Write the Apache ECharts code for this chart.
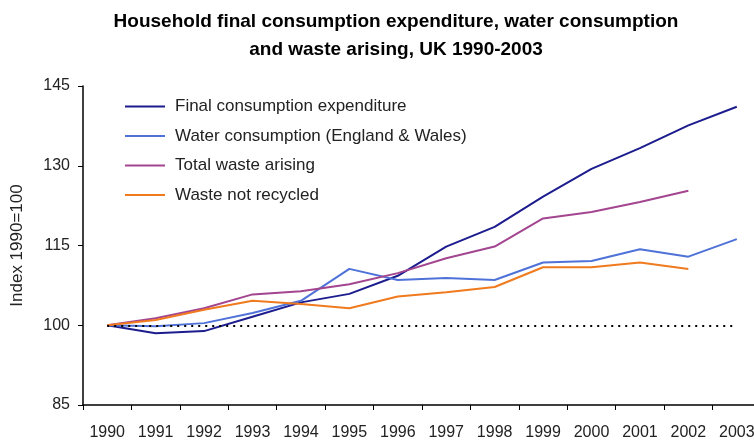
<!DOCTYPE html>
<html>
<head>
<meta charset="utf-8">
<script src="https://cdn.jsdelivr.net/npm/echarts@6/dist/echarts.min.js"></script>
<style>
  html, body { margin: 0; padding: 0; background: #fff; }
  #chart { width: 754px; height: 441px; }
</style>
</head>
<body>
<div id="chart"></div>
<script>
// index, 1990 = 100
const years = ['1990', '1991', '1992', '1993', '1994', '1995', '1996', '1997', '1998', '1999', '2000', '2001', '2002', '2003'];
const finalConsumption = [100, 98.5, 98.9, 101.6, 104.3, 105.9, 109.3, 114.8, 118.5, 124.2, 129.4, 133.3, 137.6, 141.1];
const waterConsumption = [100, 99.8, 100.4, 102.3, 104.6, 110.6, 108.5, 108.9, 108.5, 111.8, 112.1, 114.3, 112.9, 116.2];
const wasteArising = [100, 101.3, 103.2, 105.8, 106.4, 107.7, 109.8, 112.6, 114.8, 120.1, 121.3, 123.2, 125.3, null];
const wasteNotRecycled = [100, 101, 102.9, 104.6, 104, 103.2, 105.4, 106.2, 107.2, 110.9, 110.9, 111.8, 110.6, null];
const yTicks = [85, 100, 115, 130, 145];

const names = [
  'Final consumption expenditure',
  'Water consumption (England & Wales)',
  'Total waste arising',
  'Waste not recycled'
];
const colors = ['#1c1c8e', '#4f72d8', '#a3458f', '#f07a1e'];
const font = 'Liberation Sans, Arial, sans-serif';

function lineSeries(name, data, color) {
  return {
    name: name,
    type: 'line',
    data: data,
    symbol: 'none',
    connectNulls: false,
    lineStyle: { color: color, width: 2 },
    itemStyle: { color: color }
  };
}

const chart = echarts.init(document.getElementById('chart'));
const option = {
  animation: false,
  title: {
    text: 'Household final consumption expenditure, water consumption\nand waste arising, UK 1990-2003',
    left: 391,
    textAlign: 'center',
    top: 3,
    textStyle: {
      fontFamily: font,
      fontWeight: 'bold',
      fontSize: 19,
      lineHeight: 28,
      color: '#000'
    }
  },
  legend: {
    orient: 'vertical',
    left: 120,
    top: 93,
    icon: 'rect',
    itemWidth: 40,
    itemHeight: 2,
    itemGap: 12.5,
    data: names,
    textStyle: {
      fontFamily: font,
      fontSize: 17,
      lineHeight: 17,
      color: '#222',
      padding: [0, 0, 0, 5]
    }
  },
  grid: {
    left: 83,
    right: -7,
    top: 86,
    bottom: 36,
    outerBoundsMode: 'none',
    containLabel: false
  },
  xAxis: {
    type: 'category',
    data: years,
    boundaryGap: true,
    axisLine: { lineStyle: { color: '#000', width: 1.5 } },
    axisTick: { show: true, length: 5, alignWithLabel: false, lineStyle: { color: '#000' } },
    axisLabel: {
      fontFamily: font,
      fontSize: 16,
      color: '#222',
      margin: 20,
      interval: 0
    },
    splitLine: { show: false }
  },
  yAxis: {
    type: 'value',
    min: yTicks[0],
    max: yTicks[yTicks.length - 1],
    interval: 15,
    name: 'Index 1990=100',
    nameLocation: 'middle',
    nameGap: 57,
    nameTextStyle: { fontFamily: font, fontSize: 17, color: '#222' },
    axisLine: { show: true, lineStyle: { color: '#000', width: 1.5 } },
    axisTick: { show: true, length: 5, lineStyle: { color: '#000' } },
    axisLabel: {
      fontFamily: font,
      fontSize: 16,
      color: '#222',
      margin: 13
    },
    splitLine: { show: false }
  },
  series: [
    lineSeries(names[0], finalConsumption, colors[0]),
    lineSeries(names[1], waterConsumption, colors[1]),
    lineSeries(names[2], wasteArising, colors[2]),
    lineSeries(names[3], wasteNotRecycled, colors[3]),
    {
      // dotted 100 reference line
      type: 'line',
      data: [],
      markLine: {
        silent: true,
        symbol: 'none',
        label: { show: false },
        lineStyle: { color: '#000', type: [2, 5], width: 2 },
        data: [[
          { coord: [years[0], 100] },
          { coord: [years[years.length - 1], 100] }
        ]]
      }
    }
  ]
};
chart.setOption(option);
</script>
</body>
</html>
